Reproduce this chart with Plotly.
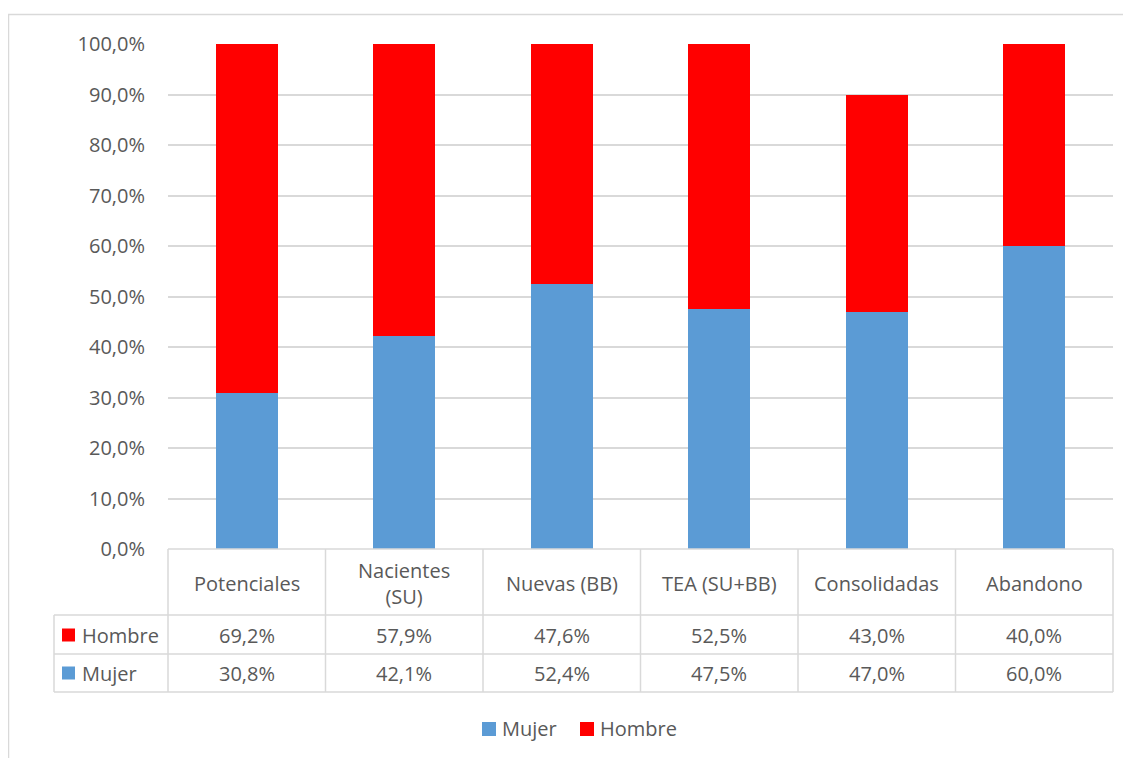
import plotly.graph_objects as go

categories = ["Potenciales", "Nacientes<br>(SU)", "Nuevas (BB)", "TEA (SU+BB)", "Consolidadas", "Abandono"]
mujer = [30.8, 42.1, 52.4, 47.5, 47.0, 60.0]
hombre = [69.2, 57.9, 47.6, 52.5, 43.0, 40.0]
colors = {"Mujer": "#5B9BD5", "Hombre": "#FF0000"}

OFF = 8  # page body margin
W, H = 1131 - OFF, 758 - OFF
# pixel coordinates below are in reference-image space
PL, PR, PT, PB = 168, 1113, 44, 549
L, T = PL - OFF, PT - OFF
R, B = (W + OFF) - PR, (H + OFF) - PB
PW, PH = PR - PL, PB - PT
FONT = "Open Sans"
FS = 20
TXT = "#595959"
GRID = "#d9d9d9"


def px(x):
    return (x - PL) / PW


def py(y):
    return (PB - y) / PH


def fmt(v):
    return f"{v:.1f}%".replace(".", ",")


fig = go.Figure()
fig.add_trace(go.Bar(x=list(range(len(categories))), y=mujer, name="Mujer", showlegend=False,
                     marker=dict(color=colors["Mujer"], line=dict(width=0))))
fig.add_trace(go.Bar(x=list(range(len(categories))), y=hombre, name="Hombre", showlegend=False,
                     marker=dict(color=colors["Hombre"], line=dict(width=0))))

shapes = []
ann = []
n = len(categories)
line = dict(color=GRID, width=1.5)
font = dict(family=FONT, size=FS, color=TXT)
# table horizontal lines
shapes.append(dict(type="line", xref="paper", yref="paper", x0=0, x1=1, y0=py(549), y1=py(549), line=line))
for yy in (615, 654, 692):
    shapes.append(dict(type="line", xref="paper", yref="paper", x0=px(54), x1=1, y0=py(yy), y1=py(yy), line=line))
# vertical lines
shapes.append(dict(type="line", xref="paper", yref="paper", x0=px(54), x1=px(54), y0=py(615), y1=py(692), line=line))
for i in range(n + 1):
    xx = i / n
    shapes.append(dict(type="line", xref="paper", yref="paper", x0=xx, x1=xx, y0=py(549), y1=py(692), line=line))
# outer chart border
shapes.append(dict(type="rect", xref="paper", yref="paper", x0=px(8.5), x1=px(1140), y0=py(14.5), y1=py(770),
                   line=dict(color=GRID, width=1.5), layer="below"))

# category headers
for i, c in enumerate(categories):
    ann.append(dict(x=i, y=py(583), xref="x", yref="paper", text=c, showarrow=False,
                    font=font, xanchor="center", yanchor="middle"))
# values rows
rows = [("Hombre", hombre, 635), ("Mujer", mujer, 673)]
for name, vals, yc in rows:
    for i, v in enumerate(vals):
        ann.append(dict(x=i, y=py(yc), xref="x", yref="paper", text=fmt(v), showarrow=False,
                        font=font, xanchor="center", yanchor="middle"))
    shapes.append(dict(type="rect", xref="paper", yref="paper", x0=px(62), x1=px(75), y0=py(yc - 6.5), y1=py(yc + 6.5),
                       fillcolor=colors[name], line=dict(width=0)))
    ann.append(dict(x=px(80), y=py(yc), xref="paper", yref="paper", text=name, showarrow=False,
                    font=font, xanchor="left", yanchor="middle"))

# manual legend
for name, sx in (("Mujer", 482), ("Hombre", 580)):
    shapes.append(dict(type="rect", xref="paper", yref="paper", x0=px(sx), x1=px(sx + 14), y0=py(722), y1=py(736),
                       fillcolor=colors[name], line=dict(width=0)))
    ann.append(dict(x=px(sx + 18), y=py(729), xref="paper", yref="paper", text=name, showarrow=False,
                    font=font, xanchor="left", yanchor="middle"))

fig.update_layout(
    width=W, height=H,
    margin=dict(l=L, r=R, t=T, b=B, autoexpand=False),
    paper_bgcolor="white", plot_bgcolor="white",
    barmode="stack", bargap=0.606,
    separators=",.",
    font=font,
    showlegend=False,
    xaxis=dict(range=[-0.5, n - 0.5], showticklabels=False, showgrid=False, zeroline=False, showline=False, ticks=""),
    yaxis=dict(range=[0, 100], dtick=10, tickformat=".1f", ticksuffix="%", showgrid=True, gridcolor=GRID, gridwidth=1.5,
               zeroline=False, showline=False, ticks="", ticklabelstandoff=22,
               tickfont=font),
    shapes=shapes, annotations=ann,
)

fig.write_html("out.html")
